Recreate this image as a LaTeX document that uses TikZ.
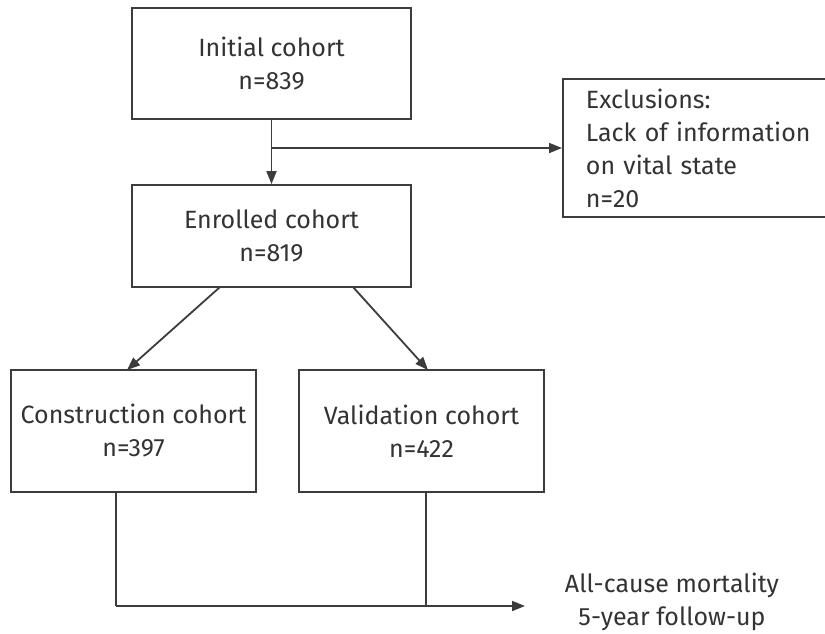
\documentclass[tikz,border=0pt]{standalone}
\usepackage{fontspec}
\setmainfont{Fira Sans}
\usetikzlibrary{arrows.meta}
\definecolor{ln}{HTML}{3C3C3C}
\definecolor{tx}{HTML}{333333}
\tikzset{
  box/.style={draw=ln, line width=1.8pt, fill=none, text=tx, align=center, inner sep=0pt,
    font=\fontsize{25}{33}\selectfont},
  arr/.style={draw=ln, line width=1.8pt, -{Triangle[length=13pt,width=10pt]}},
  ln/.style={draw=ln, line width=1.8pt},
  lbl/.style={text=tx, align=center, inner sep=0pt, font=\fontsize{25}{33}\selectfont}
}
\begin{document}
\begin{tikzpicture}[x=1pt,y=-1pt]
\useasboundingbox (0,0) rectangle (825,633);
\fill[white] (0,0) rectangle (825,633);
\node[box, minimum width=279pt, minimum height=111pt] (init) at (271.5,63.5) {Initial cohort\\n=839};
\node[box, minimum width=279pt, minimum height=102pt] (enr) at (271.5,236) {Enrolled cohort\\n=819};
\node[box, minimum width=245pt, minimum height=122pt] (con) at (133.5,431) {Construction cohort\\n=397};
\node[box, minimum width=245pt, minimum height=122pt] (val) at (421.5,431) {Validation cohort\\n=422};
\node[box, anchor=west, minimum width=290pt, minimum height=138pt, text width=244pt, inner xsep=23pt, align=left] (exc) at (562,148) {Exclusions:\\Lack of information\\on vital state\\n=20};
\node[lbl] (out) at (672,602) {All-cause mortality\\5-year follow-up};
\coordinate (split) at (init.south |- exc.west);
\coordinate (cb) at (116,492);
\coordinate (vb) at (426,492);
\coordinate (corner) at (116,606);
\coordinate (join) at (426,606);
\coordinate (tip) at (525,606);
\draw[arr] (init.south) -- (enr.north);
\draw[arr] (split) -- (exc.west);
\draw[arr] (220,287) -- (127,370);
\draw[arr] (353,287) -- (428,370);
\draw[ln] (cb) -- (corner);
\draw[arr] (corner) -- (tip);
\draw[ln] (vb) -- (join);
\end{tikzpicture}
\end{document}
